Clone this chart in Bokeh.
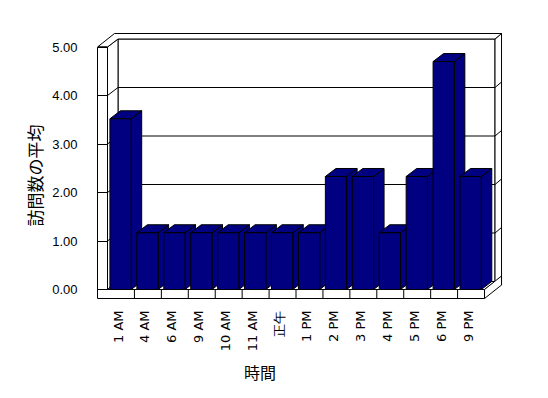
import math
from bokeh.plotting import figure
from bokeh.models import Range1d, FixedTicker, Title
from bokeh.embed import file_html
from bokeh.resources import INLINE

# ---- data ----
categories = ["1 AM", "4 AM", "6 AM", "9 AM", "10 AM", "11 AM", "正午",
              "1 PM", "2 PM", "3 PM", "4 PM", "5 PM", "6 PM", "9 PM"]
values = [3.52, 1.17, 1.17, 1.17, 1.17, 1.17, 1.17,
          1.17, 2.33, 2.33, 1.17, 2.33, 4.70, 2.33]
y_ticks = [0, 1, 2, 3, 4, 5]
y_tick_labels = ["0.00", "1.00", "2.00", "3.00", "4.00", "5.00"]
x_title = "時間"
y_title = "訪問数の平均"

# ---- layout constants (pixels) ----
W, H = 548, 398
FRAME_L, FRAME_B = 97, 300
PX_V = 48.5          # pixels per value unit
Y0_PX = 289          # pixel row of value 0 on front plane
CW = 26.93           # pixels per category
C = 0.39             # label tick offset inside category
N = len(categories)
VMAX = y_ticks[-1]

wall = 10.0 / CW
xl_i = -C
xl_o = xl_i - wall
xr = N - C
x_start = xl_o
x_end = x_start + (W - FRAME_L) / CW
y_end = Y0_PX / PX_V
y_start = -(FRAME_B - Y0_PX) / PX_V
v_bot = -9.0 / PX_V
D1x, D1y = 10.5 / CW, 8.0 / PX_V
D2x, D2y = 17.0 / CW, 13.5 / PX_V

p = figure(width=W, height=H, x_range=Range1d(x_start, x_end),
           y_range=Range1d(y_start, y_end), output_backend="svg",
           toolbar_location=None, min_border_left=FRAME_L, min_border_right=0,
           min_border_top=0, min_border_bottom=H - FRAME_B)
p.outline_line_color = None
p.grid.visible = False
p.background_fill_color = "white"
p.border_fill_color = "white"

LC = "black"
wall_kw = dict(fill_color="white", line_color=LC, line_width=1)

# back wall inner face
p.patch([xl_i + D1x, xr + D1x, xr + D1x, xl_i + D1x],
        [D1y, D1y, VMAX + D1y, VMAX + D1y], **wall_kw)
# back wall right face
p.patch([xr + D1x, xr + D2x, xr + D2x, xr + D1x],
        [VMAX + D1y, VMAX + D2y, v_bot + D2y, D1y], **wall_kw)
# left wall inner face
p.patch([xl_i, xl_i + D1x, xl_i + D1x, xl_i],
        [0, D1y, VMAX + D1y, VMAX], **wall_kw)
gv = y_ticks[1:-1]
p.segment(x0=[xl_i + D1x] * len(gv), y0=[v + D1y for v in gv],
          x1=[xr + D1x] * len(gv), y1=[v + D1y for v in gv], line_color=LC)
p.segment(x0=[xr + D1x] * len(gv), y0=[v + D1y for v in gv],
          x1=[xr + D2x] * len(gv), y1=[v + D2y for v in gv], line_color=LC)
p.segment(x0=[xl_i] * len(gv), y0=list(gv),
          x1=[xl_i + D1x] * len(gv), y1=[v + D1y for v in gv], line_color=LC)
# top L of walls
p.patch([xl_o, xl_o + D2x, xr + D2x, xr + D1x, xl_i + D1x, xl_i],
        [VMAX, VMAX + D2y, VMAX + D2y, VMAX + D1y, VMAX + D1y, VMAX], **wall_kw)
# floor top
p.patch([xl_i, xr, xr + D1x, xl_i + D1x], [0, 0, D1y, D1y], **wall_kw)
# floor right face
p.patch([xr, xr + D2x, xr + D2x, xr], [0, D2y, v_bot + D2y, v_bot], **wall_kw)
# front L face (left wall front + floor front)
p.patch([xl_o, xr, xr, xl_i, xl_i, xl_o],
        [v_bot, v_bot, 0, 0, VMAX, VMAX], **wall_kw)
divs = [k - C for k in range(1, N)]
p.segment(x0=divs, y0=[v_bot] * len(divs), x1=divs, y1=[0] * len(divs), line_color=LC)

# ---- bars ----
BOFF, BW = 0.09, 0.79
lefts = [k - C + BOFF for k in range(N)]
rights = [l + BW for l in lefts]
bar_kw = dict(fill_color="#000080", line_color="black", line_width=1)
p.patches(xs=[[r, r + D1x, r + D1x, r] for r in rights],
          ys=[[0, D1y, v + D1y, v] for v in values], **bar_kw)
p.patches(xs=[[l, r, r + D1x, l + D1x] for l, r in zip(lefts, rights)],
          ys=[[v, v, v + D1y, v + D1y] for v in values], **bar_kw)
p.quad(left=lefts, right=rights, bottom=[0] * N, top=values, **bar_kw)

# ---- axes ----
p.xaxis.ticker = FixedTicker(ticks=list(range(N)))
p.xaxis.major_label_overrides = {i: c for i, c in enumerate(categories)}
p.xaxis.major_label_orientation = math.pi / 2
p.xaxis.axis_line_color = None
p.xaxis.major_tick_line_color = None
p.xaxis.minor_tick_line_color = None
p.xaxis.major_label_standoff = 4
p.xaxis.major_label_text_font = "DejaVu Sans"
p.xaxis.major_label_text_font_size = "13px"
p.xaxis.major_label_text_color = "black"

p.yaxis.ticker = FixedTicker(ticks=y_ticks)
p.yaxis.major_label_overrides = dict(zip(y_ticks, y_tick_labels))
p.yaxis.bounds = (v_bot, VMAX)
p.yaxis.axis_line_color = LC
p.yaxis.major_tick_in = 10
p.yaxis.major_tick_out = 0
p.yaxis.major_tick_line_color = LC
p.yaxis.minor_tick_line_color = None
p.yaxis.major_label_standoff = 20
p.yaxis.major_label_text_font = "Liberation Sans"
p.yaxis.major_label_text_font_size = "13px"
p.yaxis.major_label_text_color = "black"

# axis titles as Title annotations placed in the side panels
yt = Title(text=y_title, align="left", offset=300 - 226,
           text_font="Noto Sans CJK JP", text_font_size="17px",
           text_font_style="normal", text_color="black", standoff=6)
p.add_layout(yt, "left")
xt = Title(text=x_title, align="left", offset=243.5 - FRAME_L,
           text_font="Noto Sans CJK JP", text_font_size="16px",
           text_font_style="normal", text_color="black", standoff=6)
p.add_layout(xt, "below")

open("out.html", "w").write(file_html(p, INLINE))
